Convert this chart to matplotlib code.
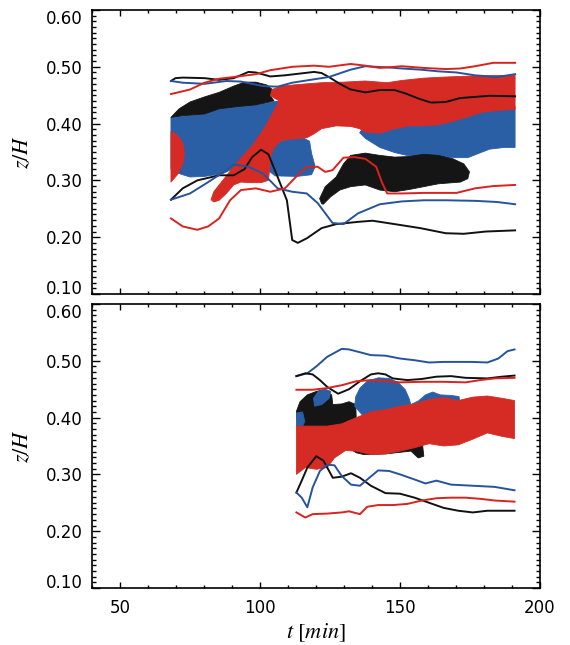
import matplotlib
matplotlib.use("Agg")
import matplotlib.pyplot as plt
import matplotlib.transforms as mtransforms
from matplotlib.ticker import FixedLocator, MultipleLocator, FuncFormatter

plt.rcParams["mathtext.fontset"] = "stix"
plt.rcParams["font.family"] = ["DejaVu Sans"]

# ---------------- colours ----------------
RED_FILL, BLUE_FILL, BLACK_FILL = "#d62b25", "#2a5fa6", "#151515"
RED_LINE, BLUE_LINE, BLACK_LINE = "#d8231e", "#27529c", "#111111"

# ---------------- upper panel: boundary curves ----------------
top_black_hi_t = [68.2, 69.8, 72.4, 80.2, 85.4, 90.6, 95.9, 98.5, 103.7, 108.9, 114.1, 119.3, 122.0, 124.6,
                  128.5, 132.4, 137.6, 142.8, 148.1, 152.0, 157.2, 161.1, 166.3, 171.5, 176.8, 182.0, 191.1]
top_black_hi_z = [0.475, 0.480, 0.481, 0.480, 0.477, 0.480, 0.491, 0.490, 0.483, 0.485, 0.488, 0.491, 0.489, 0.482,
                  0.470, 0.460, 0.455, 0.459, 0.459, 0.453, 0.443, 0.437, 0.438, 0.445, 0.447, 0.449, 0.448]

top_blue_hi_t = [68.2, 72.4, 80.2, 88.0, 93.2, 101.1, 106.3, 111.5, 119.3, 124.6, 132.4, 137.6, 145.4, 150.7,
                 157.2, 163.7, 170.2, 176.8, 184.6, 191.1]
top_blue_hi_z = [0.475, 0.472, 0.470, 0.475, 0.474, 0.466, 0.465, 0.472, 0.478, 0.482, 0.495, 0.501, 0.499, 0.497,
                 0.495, 0.492, 0.490, 0.485, 0.482, 0.487]

top_red_hi_t = [68.2, 75.0, 80.2, 85.4, 90.6, 98.5, 103.7, 111.5, 119.3, 124.6, 132.4, 137.6, 142.8, 150.7,
                158.5, 166.3, 171.5, 176.8, 183.3, 191.1]
top_red_hi_z = [0.452, 0.460, 0.472, 0.479, 0.482, 0.487, 0.494, 0.500, 0.502, 0.500, 0.505, 0.502, 0.498, 0.501,
                0.498, 0.496, 0.497, 0.501, 0.507, 0.507]

top_black_lo_t = [68.2, 72.4, 77.6, 85.4, 90.6, 94.5, 97.2, 100.4, 103.0, 106.3, 109.6, 111.5, 113.5, 116.7,
                  122.0, 127.2, 135.0, 140.2, 148.1, 157.2, 166.3, 172.8, 180.7, 191.1]
top_black_lo_z = [0.266, 0.286, 0.300, 0.309, 0.309, 0.320, 0.341, 0.354, 0.346, 0.306, 0.265, 0.195, 0.190, 0.198,
                  0.216, 0.223, 0.227, 0.229, 0.223, 0.216, 0.207, 0.206, 0.210, 0.212]

top_blue_lo_t = [68.2, 75.0, 81.5, 88.0, 90.6, 95.9, 101.1, 106.3, 111.5, 116.7, 120.6, 125.9, 129.8, 135.0,
                 142.8, 150.7, 158.5, 166.3, 176.8, 184.6, 191.1]
top_blue_lo_z = [0.266, 0.277, 0.297, 0.318, 0.328, 0.324, 0.312, 0.286, 0.280, 0.277, 0.260, 0.225, 0.223, 0.242,
                 0.258, 0.263, 0.265, 0.265, 0.264, 0.262, 0.258]

top_red_lo_t = [68.2, 72.4, 77.6, 81.5, 85.4, 89.3, 93.2, 98.5, 103.7, 108.9, 112.8, 116.7, 120.6, 123.3,
                125.9, 129.8, 133.7, 137.6, 141.5, 143.5, 145.4, 150.7, 158.5, 170.2, 176.8, 183.3, 191.1]
top_red_lo_z = [0.233, 0.219, 0.213, 0.219, 0.233, 0.265, 0.283, 0.286, 0.280, 0.286, 0.306, 0.324, 0.324, 0.315,
                0.318, 0.340, 0.341, 0.338, 0.324, 0.297, 0.277, 0.277, 0.278, 0.278, 0.286, 0.290, 0.292]

# ---------------- upper panel: filled regions ----------------
top_blue_left_t = [68.2, 80.2, 85.4, 92.0, 98.5, 106.9, 104.9, 101.1, 95.9, 90.6, 86.7, 80.2, 75.0, 71.1, 68.2]
top_blue_left_z = [0.411, 0.417, 0.426, 0.430, 0.433, 0.440, 0.417, 0.382, 0.347, 0.321, 0.312, 0.307, 0.306,
                   0.312, 0.320]

top_blue_mid_t = [109.2, 115.7, 117.7, 118.4, 119.7, 118.4, 113.2, 105.4, 102.8, 102.1, 103.4, 106.7]
top_blue_mid_z = [0.373, 0.374, 0.369, 0.348, 0.324, 0.310, 0.307, 0.308, 0.318, 0.335, 0.353, 0.367]

top_blue_right_t = [136.3, 142.8, 150.7, 163.7, 176.8, 191.1, 191.1, 187.2, 182.0, 176.8, 174.2, 168.9, 163.7,
                    158.5, 153.3, 148.1, 142.8, 137.6, 135.6]
top_blue_right_z = [0.389, 0.392, 0.401, 0.406, 0.424, 0.430, 0.358, 0.358, 0.355, 0.345, 0.340, 0.340, 0.343,
                    0.341, 0.343, 0.349, 0.358, 0.374, 0.384]

top_black_left_t = [68.2, 71.1, 75.0, 80.2, 85.4, 90.6, 94.5, 98.5, 102.4, 104.4, 103.7, 105.0, 98.5, 92.0, 85.4,
                    80.2, 72.4]
top_black_left_z = [0.411, 0.426, 0.438, 0.447, 0.455, 0.466, 0.473, 0.473, 0.468, 0.460, 0.449, 0.440, 0.433,
                    0.430, 0.426, 0.417, 0.414]

top_black_right_t = [122.0, 121.3, 123.3, 127.2, 129.8, 132.4, 137.6, 142.8, 148.1, 153.3, 158.5, 163.7, 168.9,
                     172.8, 174.8, 174.2, 171.5, 163.7, 158.5, 153.3, 148.1, 142.8, 137.6, 132.4, 128.5, 125.2,
                     122.6]
top_black_right_z = [0.259, 0.268, 0.289, 0.306, 0.329, 0.344, 0.348, 0.344, 0.341, 0.342, 0.346, 0.344, 0.338,
                     0.329, 0.315, 0.303, 0.297, 0.294, 0.289, 0.284, 0.280, 0.283, 0.292, 0.289, 0.283, 0.271,
                     0.258]

top_red_small_t = [68.2, 70.5, 72.5, 73.0, 72.5, 70.5, 68.2]
top_red_small_z = [0.386, 0.380, 0.365, 0.347, 0.330, 0.310, 0.297]

top_red_band_t = [82.5, 83.5, 86.7, 91.9, 97.2, 101.7, 105.0, 106.9, 103.7, 104.3, 107.6, 114.1, 122.0, 129.8,
                  137.6, 145.4, 150.7, 158.5, 166.3, 176.8, 191.1, 191.1, 184.6, 179.4, 174.2, 168.9, 163.7,
                  158.5, 153.3, 148.1, 142.8, 137.6, 135.6, 132.4, 127.2, 122.0, 119.3, 116.7, 111.5, 107.6,
                  105.0, 103.7, 103.4, 103.0, 100.4, 97.2, 93.2, 90.6, 88.0, 85.4, 83.5]
top_red_band_z = [0.266, 0.280, 0.300, 0.332, 0.361, 0.393, 0.423, 0.440, 0.449, 0.460, 0.466, 0.469, 0.472, 0.473,
                  0.475, 0.472, 0.476, 0.480, 0.482, 0.484, 0.485, 0.425, 0.423, 0.420, 0.412, 0.404, 0.398,
                  0.396, 0.396, 0.391, 0.383, 0.385, 0.391, 0.395, 0.396, 0.391, 0.382, 0.375, 0.373, 0.370,
                  0.358, 0.341, 0.318, 0.300, 0.296, 0.296, 0.297, 0.292, 0.277, 0.265, 0.262]

# ---------------- lower panel: boundary curves ----------------
bot_blue_hi_t = [113.0, 116.9, 120.1, 124.0, 129.2, 131.8, 135.7, 139.6, 144.8, 150.0, 155.2, 160.4, 165.6,
                 170.8, 176.0, 181.2, 185.1, 188.4, 190.9]
bot_blue_hi_z = [0.473, 0.478, 0.490, 0.507, 0.521, 0.520, 0.515, 0.510, 0.509, 0.504, 0.501, 0.497, 0.498,
                 0.498, 0.498, 0.497, 0.504, 0.517, 0.520]

bot_black_hi_t = [113.0, 116.2, 118.8, 121.4, 124.0, 127.9, 131.8, 135.7, 139.6, 142.2, 144.8, 147.4, 152.6,
                  157.8, 163.0, 168.2, 173.4, 181.2, 186.4, 190.9]
bot_black_hi_z = [0.473, 0.478, 0.476, 0.466, 0.454, 0.442, 0.450, 0.464, 0.476, 0.478, 0.476, 0.469, 0.466,
                  0.468, 0.472, 0.473, 0.470, 0.469, 0.472, 0.474]

bot_red_hi_t = [113.0, 118.8, 124.0, 129.2, 134.4, 139.6, 144.8, 150.0, 157.8, 165.6, 173.4, 178.6, 183.8, 190.9]
bot_red_hi_z = [0.449, 0.449, 0.452, 0.457, 0.464, 0.466, 0.464, 0.462, 0.463, 0.463, 0.462, 0.466, 0.469, 0.470]

bot_black_lo_t = [113.0, 114.9, 116.9, 120.1, 122.7, 126.0, 129.2, 132.5, 135.7, 139.6, 144.8, 150.0, 155.2,
                  160.4, 165.6, 170.8, 176.0, 181.2, 190.9]
bot_black_lo_z = [0.268, 0.289, 0.312, 0.332, 0.324, 0.294, 0.296, 0.302, 0.294, 0.280, 0.267, 0.266, 0.259,
                  0.250, 0.241, 0.236, 0.233, 0.236, 0.236]

bot_blue_lo_t = [113.0, 114.9, 116.9, 118.8, 121.4, 124.0, 126.6, 129.2, 132.5, 135.7, 138.3, 142.2, 146.1,
                 150.0, 155.2, 159.1, 163.0, 168.2, 176.0, 183.8, 190.9]
bot_blue_lo_z = [0.268, 0.259, 0.242, 0.277, 0.306, 0.317, 0.316, 0.297, 0.282, 0.280, 0.291, 0.307, 0.306,
                 0.300, 0.291, 0.284, 0.289, 0.282, 0.280, 0.278, 0.272]

bot_red_lo_t = [113.0, 116.2, 118.8, 124.0, 129.2, 131.8, 135.7, 138.3, 142.2, 147.4, 152.6, 157.8, 163.0,
                168.2, 173.4, 178.6, 183.8, 190.9]
bot_red_lo_z = [0.233, 0.224, 0.230, 0.231, 0.233, 0.235, 0.230, 0.243, 0.246, 0.246, 0.248, 0.254, 0.258,
                0.259, 0.259, 0.257, 0.254, 0.252]

# ---------------- lower panel: filled regions ----------------
bot_black_t = [113.4, 113.0, 114.3, 116.9, 120.1, 122.7, 125.6, 126.0, 129.2, 131.8, 134.2, 134.4, 150.0, 155.2,
               158.1, 158.5, 156.5, 153.9, 144.8, 137.0, 134.4, 131.8, 129.2, 127.9, 124.0, 117.5]
bot_black_z = [0.385, 0.411, 0.428, 0.440, 0.446, 0.449, 0.440, 0.423, 0.424, 0.428, 0.423, 0.393, 0.388, 0.358,
               0.350, 0.332, 0.329, 0.341, 0.336, 0.335, 0.338, 0.346, 0.342, 0.335, 0.341, 0.365]

bot_blue_bump_t = [119.5, 119.1, 120.8, 123.3, 125.3, 124.7, 122.1]
bot_blue_bump_z = [0.420, 0.434, 0.446, 0.450, 0.446, 0.434, 0.423]

bot_blue_big_t = [133.8, 134.2, 135.7, 138.3, 142.2, 146.1, 149.3, 151.9, 153.2, 154.5, 150.0, 137.0]
bot_blue_big_z = [0.420, 0.437, 0.452, 0.464, 0.470, 0.469, 0.462, 0.449, 0.434, 0.413, 0.405, 0.402]

bot_blue_strip_t = [153.9, 156.5, 159.1, 161.7, 164.3, 168.2, 171.1, 171.5, 153.9]
bot_blue_strip_z = [0.423, 0.429, 0.440, 0.445, 0.440, 0.439, 0.437, 0.417, 0.414]

bot_blue_edge_t = [113.0, 115.2, 116.0, 115.2, 113.0]
bot_blue_edge_z = [0.408, 0.410, 0.393, 0.385, 0.385]

bot_red_band_t = [113.0, 118.8, 124.0, 129.2, 134.4, 139.6, 144.8, 150.0, 155.2, 160.4, 165.6, 170.8, 176.0,
                  181.2, 186.4, 190.9, 190.9, 186.4, 181.2, 176.0, 170.8, 165.6, 160.4, 155.2, 150.0, 144.8,
                  139.6, 134.4, 130.5, 126.6, 124.0, 120.1, 116.2, 113.0]
bot_red_band_z = [0.385, 0.385, 0.385, 0.389, 0.400, 0.410, 0.414, 0.420, 0.424, 0.432, 0.435, 0.430, 0.436,
                  0.438, 0.434, 0.430, 0.363, 0.367, 0.373, 0.362, 0.352, 0.350, 0.354, 0.347, 0.341, 0.336,
                  0.335, 0.341, 0.342, 0.329, 0.312, 0.309, 0.312, 0.300]

x_ticks = [50, 100, 150, 200]
y_ticks = [0.10, 0.20, 0.30, 0.40, 0.50, 0.60]
Y_MIN, Y_MAX = y_ticks[0], y_ticks[-1]


def inner_label(value, pos):
    # the end values are written separately so they sit inside the frame
    if abs(value - Y_MIN) < 1e-9 or abs(value - Y_MAX) < 1e-9:
        return ""
    return "%.2f" % value


def style_axes(ax, show_xlabels):
    ax.set_xlim(40, 200)
    ax.set_ylim(Y_MIN, Y_MAX)
    ax.xaxis.set_major_locator(FixedLocator(x_ticks))
    ax.xaxis.set_minor_locator(MultipleLocator(10))
    ax.yaxis.set_major_locator(FixedLocator(y_ticks))
    ax.yaxis.set_minor_locator(MultipleLocator(0.01))
    ax.yaxis.set_major_formatter(FuncFormatter(inner_label))
    ax.tick_params(which="both", direction="in", top=True, right=True, width=1.0, color="black")
    ax.tick_params(axis="x", which="major", length=4.5, pad=8, labelsize=12)
    ax.tick_params(axis="x", which="minor", length=2.5)
    ax.tick_params(axis="y", which="major", length=5.5, pad=7, labelsize=12)
    ax.tick_params(axis="y", which="minor", length=3.0)
    if not show_xlabels:
        ax.tick_params(axis="x", labelbottom=False)
    for sp in ax.spines.values():
        sp.set_linewidth(1.2)
    ax.set_ylabel(r"$z/H$", fontsize=16, va="center")
    ax.yaxis.set_label_coords(-0.156, 0.5)
    # end labels, nudged inward
    shift = mtransforms.ScaledTranslation(-7 / 72, 0, ax.figure.dpi_scale_trans)
    trans = mtransforms.blended_transform_factory(ax.transAxes, ax.transData) + shift
    ax.text(0, Y_MAX, "%.2f" % Y_MAX, transform=trans, ha="right", va="top", fontsize=12)
    ax.text(0, Y_MIN, "%.2f" % Y_MIN, transform=trans, ha="right", va="baseline", fontsize=12)


def fill(ax, t, z, color):
    ax.fill(t, z, color=color, lw=0.6, ec=color, zorder=1)


def line(ax, t, z, color):
    ax.plot(t, z, color=color, lw=1.4, zorder=3, solid_joinstyle="round")


fig = plt.figure(figsize=(5.7, 6.45), dpi=100)
ax1 = fig.add_axes([0.1614, 0.5442, 0.786, 0.4403])
ax2 = fig.add_axes([0.1614, 0.0884, 0.786, 0.4403])

# upper panel
fill(ax1, top_blue_left_t, top_blue_left_z, BLUE_FILL)
fill(ax1, top_blue_mid_t, top_blue_mid_z, BLUE_FILL)
fill(ax1, top_blue_right_t, top_blue_right_z, BLUE_FILL)
fill(ax1, top_black_left_t, top_black_left_z, BLACK_FILL)
fill(ax1, top_black_right_t, top_black_right_z, BLACK_FILL)
fill(ax1, top_red_small_t, top_red_small_z, RED_FILL)
fill(ax1, top_red_band_t, top_red_band_z, RED_FILL)
line(ax1, top_black_hi_t, top_black_hi_z, BLACK_LINE)
line(ax1, top_blue_hi_t, top_blue_hi_z, BLUE_LINE)
line(ax1, top_red_hi_t, top_red_hi_z, RED_LINE)
line(ax1, top_black_lo_t, top_black_lo_z, BLACK_LINE)
line(ax1, top_blue_lo_t, top_blue_lo_z, BLUE_LINE)
line(ax1, top_red_lo_t, top_red_lo_z, RED_LINE)

# lower panel
fill(ax2, bot_black_t, bot_black_z, BLACK_FILL)
fill(ax2, bot_blue_bump_t, bot_blue_bump_z, BLUE_FILL)
fill(ax2, bot_blue_big_t, bot_blue_big_z, BLUE_FILL)
fill(ax2, bot_blue_strip_t, bot_blue_strip_z, BLUE_FILL)
fill(ax2, bot_blue_edge_t, bot_blue_edge_z, BLUE_FILL)
fill(ax2, bot_red_band_t, bot_red_band_z, RED_FILL)
line(ax2, bot_blue_hi_t, bot_blue_hi_z, BLUE_LINE)
line(ax2, bot_black_hi_t, bot_black_hi_z, BLACK_LINE)
line(ax2, bot_red_hi_t, bot_red_hi_z, RED_LINE)
line(ax2, bot_black_lo_t, bot_black_lo_z, BLACK_LINE)
line(ax2, bot_blue_lo_t, bot_blue_lo_z, BLUE_LINE)
line(ax2, bot_red_lo_t, bot_red_lo_z, RED_LINE)

style_axes(ax1, False)
style_axes(ax2, True)
ax2.set_xlabel(r"$t\ [min]$", fontsize=16, va="center")
ax2.xaxis.set_label_coords(0.5, -0.158)

fig.savefig("out.png", dpi=100)
